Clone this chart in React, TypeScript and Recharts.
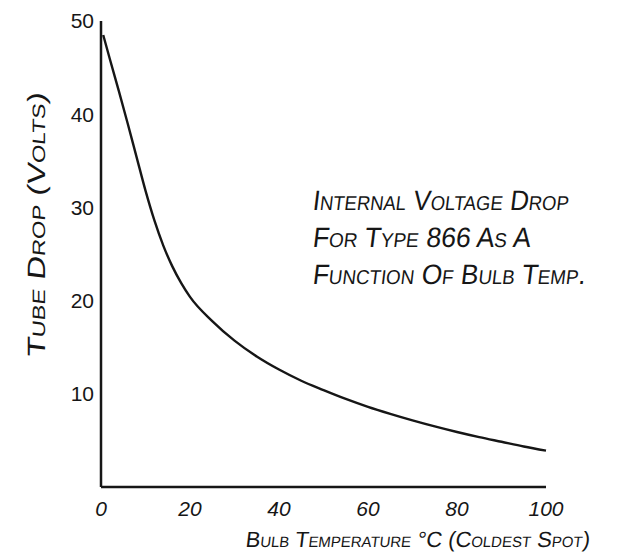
import React from "react";
import { LineChart, Line, XAxis, YAxis } from "recharts";

// bulb temperature (°C, coldest spot)
const temps = [0.5, 2, 4, 6, 8, 10, 12, 14, 16, 18, 20, 25, 30, 35, 40, 45, 50, 55, 60, 65, 70, 75, 80, 85, 90, 95, 100];
// tube drop (volts)
const drops = [48.5, 45.9, 42.5, 39.0, 35.4, 31.8, 28.6, 25.9, 23.7, 21.9, 20.4, 17.8, 15.7, 14.0, 12.6, 11.4, 10.4, 9.45, 8.6, 7.85, 7.15, 6.5, 5.9, 5.35, 4.85, 4.35, 3.9];

const xTicks = [0, 20, 40, 60, 80, 100];
const yTicks = [10, 20, 30, 40, 50];

const noteLines = ["Internal Voltage Drop", "For Type 866 As A", "Function Of Bulb Temp."];

const data = temps.map((t, i) => ({ t, v: drops[i] }));

const ink = "#161616";
const font = "'Liberation Sans', 'DejaVu Sans', sans-serif";
const xTickStyle = { fill: ink, fontSize: 21, fontStyle: "italic", fontFamily: font };
const yTickStyle = { fill: ink, fontSize: 21, fontFamily: font };
const capsStyle: React.CSSProperties = {
  fontFamily: font,
  fontVariant: "small-caps",
  fill: ink,
};

export default function App() {
  return (
    <div style={{ position: "absolute", left: 0, top: 0, width: 620, height: 555, background: "#fff" }}>
      <LineChart width={620} height={555} data={data} margin={{ top: 21, right: 74, left: 0, bottom: 0 }}>
        <XAxis
          dataKey="t"
          type="number"
          domain={[0, 100]}
          ticks={xTicks}
          height={68}
          tickLine={false}
          tickSize={0}
          tickMargin={14}
          axisLine={{ stroke: ink, strokeWidth: 2.5 }}
          tick={xTickStyle}
          interval={0}
        />
        <YAxis
          type="number"
          domain={[0, 50]}
          ticks={yTicks}
          width={101}
          tickLine={false}
          tickSize={0}
          tickMargin={7}
          axisLine={{ stroke: ink, strokeWidth: 2.5 }}
          tick={yTickStyle}
          interval={0}
        />
        <Line
          type="monotone"
          dataKey="v"
          stroke={ink}
          strokeWidth={2.4}
          dot={false}
          isAnimationActive={false}
        />
      </LineChart>
      <svg width={620} height={555} style={{ position: "absolute", left: 0, top: 0, pointerEvents: "none" }}>
        {noteLines.map((s, i) => (
          <text
            key={s}
            x={0}
            y={0}
            fontSize={28}
            style={capsStyle}
            transform={`translate(312 ${210 + i * 37}) skewX(-7)`}
            textLength={[256, 218, 273][i]}
            lengthAdjust="spacingAndGlyphs"
          >
            {s}
          </text>
        ))}
        <text
          x={0}
          y={0}
          fontSize={22}
          style={capsStyle}
          transform="translate(245 547) skewX(-7)"
        >
          Bulb Temperature °C (Coldest Spot)
        </text>
        <text
          x={0}
          y={0}
          fontSize={25}
          style={capsStyle}
          transform="translate(45 358) rotate(-90) skewX(-7)"
          textLength={265}
          lengthAdjust="spacingAndGlyphs"
        >
          Tube Drop (Volts)
        </text>
      </svg>
    </div>
  );
}
